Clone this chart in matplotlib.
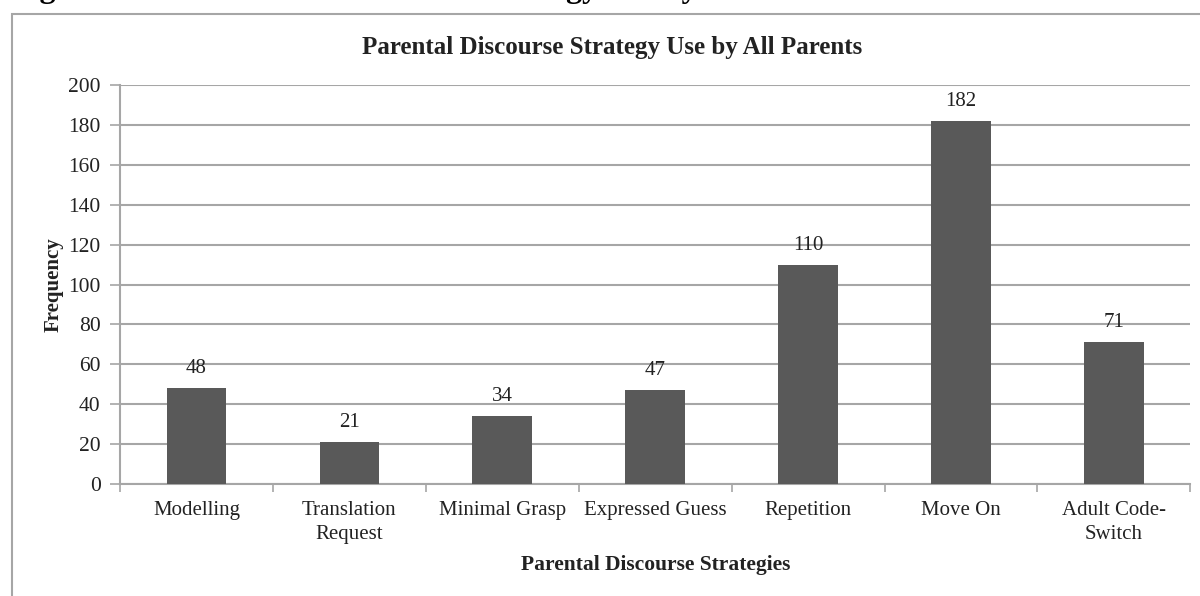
import matplotlib.pyplot as plt
import numpy as np
from matplotlib.patches import Rectangle

plt.rcParams["font.family"] = ["Liberation Serif", "DejaVu Serif"]

strategies = ["Modelling", "Translation\nRequest", "Minimal Grasp", "Expressed Guess",
              "Repetition", "Move On", "Adult Code-\nSwitch"]
counts = [48, 21, 34, 47, 110, 182, 71]
y_ticks = list(range(0, 201, 20))

grey = "#a6a6a6"
bar_color = "#595959"
text_color = "#222222"

fig = plt.figure(figsize=(12, 5.96), dpi=100)

# caption of the page, mostly above the top edge
fig.text(0.009, 1.0055, "Figure 4.12.3:  Parental Discourse Strategy Use by All Parents",
         fontsize=23, fontweight="bold", va="baseline", ha="left")

# chart frame
fig.patches.append(Rectangle((0.01, -0.05), 1.05, 1.027, transform=fig.transFigure,
                             fill=False, edgecolor=grey, linewidth=1.5))

fig.text(0.51, 0.921, "Parental Discourse Strategy Use by All Parents", fontsize=18,
         fontweight="bold", ha="center", va="center", color=text_color)

ax = fig.add_axes([0.1, 0.188, 0.892, 0.669])
x = np.arange(len(strategies))
ax.bar(x, counts, width=0.39, color=bar_color, zorder=3)

for xi, v in zip(x, counts):
    ax.text(xi, v + 5, str(v), ha="center", va="bottom", fontsize=15, color=text_color)

ax.set_xlim(-0.5, len(strategies) - 0.5)
ax.set_ylim(0, 200)
ax.set_yticks(y_ticks)
ax.yaxis.grid(True, color=grey, linewidth=1.5, zorder=0)
ax.tick_params(axis="y", length=7, width=1.2, color=grey, labelsize=15.5,
               labelcolor=text_color, pad=7)

ax.set_xticks(x)
ax.set_xticklabels(strategies, fontsize=15, color=text_color, linespacing=1.35)
ax.set_xticks(np.arange(len(strategies) + 1) - 0.5, minor=True)
ax.tick_params(axis="x", which="major", length=0, pad=12)
ax.tick_params(axis="x", which="minor", length=6, width=1.2, color=grey)

for side in ["top", "right"]:
    ax.spines[side].set_visible(False)
for side in ["left", "bottom"]:
    ax.spines[side].set_color(grey)
    ax.spines[side].set_linewidth(1.5)

ax.set_ylabel("Frequency", fontsize=15, fontweight="bold", labelpad=3, color=text_color)
ax.set_xlabel("Parental Discourse Strategies", fontsize=15.5, fontweight="bold",
              labelpad=8, color=text_color)

fig.savefig("out.png", dpi=100)
